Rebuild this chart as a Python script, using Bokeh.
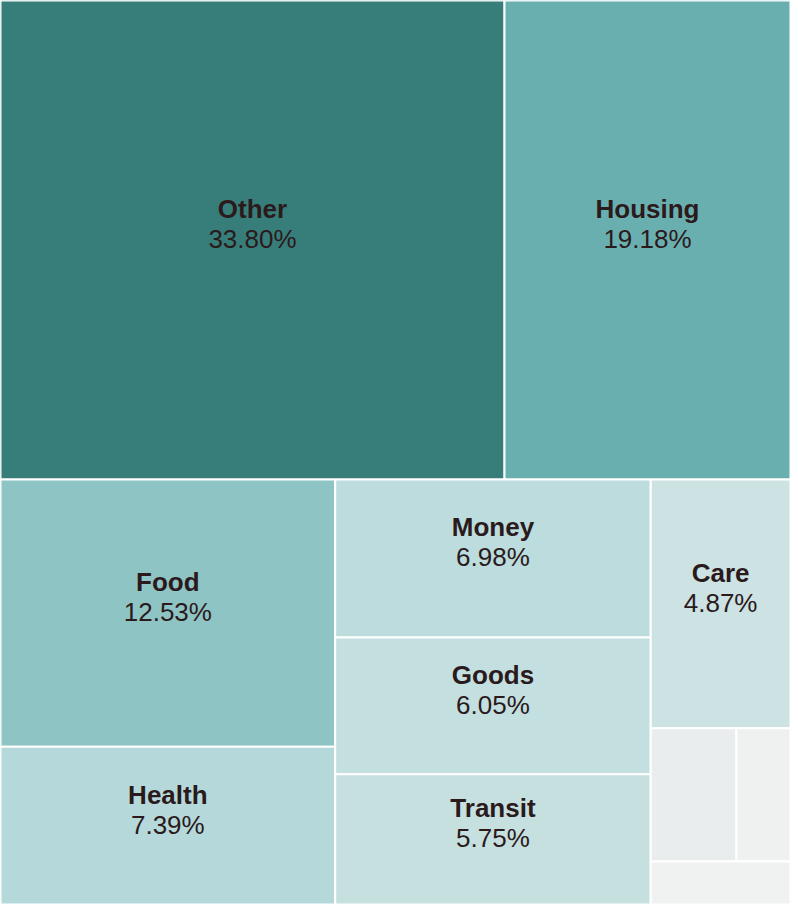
import math
from bokeh.plotting import figure
from bokeh.models import Range1d, ColumnDataSource
from bokeh.core.properties import value
from bokeh.embed import file_html
from bokeh.resources import INLINE

# ---- data (share of spending, %) ----
categories = ["Other", "Housing", "Food", "Health", "Money", "Goods", "Transit", "Care", "", "", ""]
shares = [33.80, 19.18, 12.53, 7.39, 6.98, 6.05, 5.75, 4.87, 1.60, 1.01, 0.84]
colors = ["#377e7b", "#6aafb0", "#8fc4c5", "#b5d9da", "#bcdcdd", "#c3dfdf",
          "#c6e0e0", "#cce2e3", "#e9eded", "#eef1f0", "#f0f1f1"]

W, H = 790, 904
PHI = (1 + math.sqrt(5)) / 2


def squarify(values, x0, y0, x1, y1, ratio=PHI):
    """d3-style squarified treemap layout (values sorted descending)."""
    rects = [None] * len(values)
    total = float(sum(values))
    i0 = i1 = 0
    n = len(values)
    while i0 < n:
        dx, dy = x1 - x0, y1 - y0
        s = values[i1]; i1 += 1
        mn = mx = s
        alpha = max(dy / dx, dx / dy) / (total * ratio)
        beta = s * s * alpha
        min_ratio = max(mx / beta, beta / mn)
        while i1 < n:
            v = values[i1]
            s2 = s + v
            mn2, mx2 = min(mn, v), max(mx, v)
            beta = s2 * s2 * alpha
            nr = max(mx2 / beta, beta / mn2)
            if nr > min_ratio:
                break
            s, mn, mx, min_ratio = s2, mn2, mx2, nr
            i1 += 1
        row = list(range(i0, i1))
        if dx < dy:  # dice: horizontal band at top
            ny = y0 + dy * s / total
            cx = x0
            for k in row:
                w = dx * values[k] / s
                rects[k] = (cx, y0, cx + w, ny)
                cx += w
            y0 = ny
        else:  # slice: vertical column at left
            nx = x0 + dx * s / total
            cy = y0
            for k in row:
                h = dy * values[k] / s
                rects[k] = (x0, cy, nx, cy + h)
                cy += h
            x0 = nx
        total -= s
        i0 = i1
    return rects


rects = squarify(shares, 0, 0, W, H)
src = ColumnDataSource(dict(
    left=[r[0] for r in rects], right=[r[2] for r in rects],
    top=[r[1] for r in rects], bottom=[r[3] for r in rects],
    color=colors, name=categories,
))

p = figure(width=W, height=H, output_backend="svg", toolbar_location=None,
           x_range=Range1d(0, W), y_range=Range1d(H, 0), min_border=0)
p.axis.visible = False
p.grid.visible = False
p.outline_line_color = None
p.background_fill_color = "white"
p.border_fill_color = "white"

p.quad(left="left", right="right", top="top", bottom="bottom", source=src,
       fill_color="color", line_color="white", line_width=2)

lx, ly_name, ly_pct, names, pcts = [], [], [], [], []
for r, nm, v in zip(rects, categories, shares):
    if nm and (r[2] - r[0]) > 100 and (r[3] - r[1]) > 80:
        cx = (r[0] + r[2]) / 2
        cy = (r[1] + r[3]) / 2
        lx.append(cx)
        ly_name.append(cy - 31)
        ly_pct.append(cy - 1)
        names.append(nm)
        pcts.append(f"{v:.2f}%")

lab = ColumnDataSource(dict(x=lx, yn=ly_name, yp=ly_pct, name=names, pct=pcts))
p.text(x="x", y="yn", text="name", source=lab, text_font=value("Liberation Sans"),
       text_font_style="bold", text_font_size="26px", text_color="#2b1a1c",
       text_align="center", text_baseline="middle")
p.text(x="x", y="yp", text="pct", source=lab, text_font=value("Liberation Sans"),
       text_font_size="26px", text_color="#2b1a1c",
       text_align="center", text_baseline="middle")

open("out.html", "w").write(file_html(p, INLINE))
